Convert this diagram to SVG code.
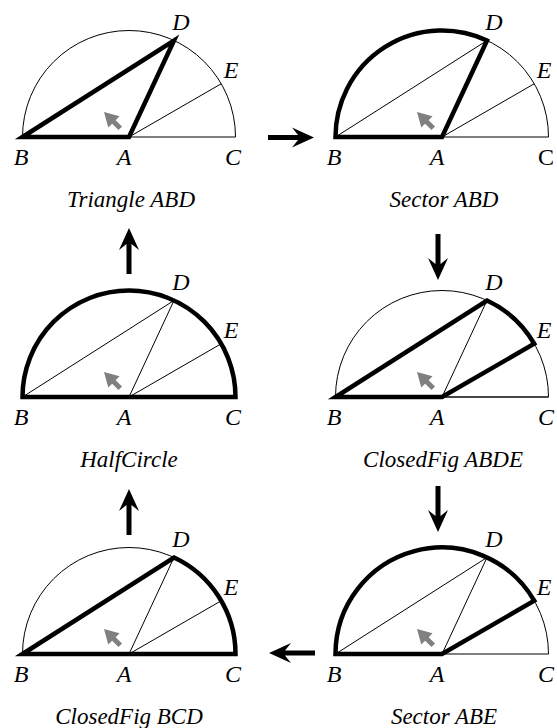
<svg xmlns="http://www.w3.org/2000/svg" xmlns:xlink="http://www.w3.org/1999/xlink" width="557" height="728" viewBox="0 0 557 728">
<style>
.thin{fill:none;stroke:#000;stroke-width:1}
.thick{fill:none;stroke:#000;stroke-width:4.5;stroke-linejoin:miter;stroke-miterlimit:10}
text{font-family:'Liberation Serif','Tinos','Times New Roman','DejaVu Serif',serif;font-style:italic;fill:#000;text-anchor:middle}
.lbl{font-size:24px}
.up{font-style:normal}
.ttl{font-size:23px}
.cur{fill:#808080}
.arr{fill:#000}
</style>
<defs>
<g id="base">
<path class="thin" d="M-106.5,0 A106.5,106.5 0 0 1 106.5,0 Z"/>
<path class="thin" d="M-106.5,0 L45.01,-96.52 L0,0 L92.23,-53.25"/>
<path class="cur" d="M0,0 L14,-8 L14,-2.5 L23,-2.5 L23,2.5 L14,2.5 L14,8 Z" transform="translate(-25,-25) rotate(45)"/>
</g>
<path id="bigArrow" d="M0,0 L-22,-10 L-16,-2.5 L-46,-2.5 L-46,2.5 L-16,2.5 L-22,10 Z"/>
</defs>

<g id="triangle-abd" transform="translate(129,137)">
<use xlink:href="#base"/>
<path class="thick" d="M-106.5,0 L45.01,-96.52 L0,0 Z"/>
<text class="lbl" x="-108" y="28" font-family="Liberation Serif, serif">B</text>
<text class="lbl" x="-5" y="28">A</text>
<text class="lbl" x="104" y="28">C</text>
<text class="lbl" x="52" y="-107">D</text>
<text class="lbl" x="102" y="-59">E</text>
<text class="ttl" x="2" y="70">Triangle ABD</text>
</g>

<g id="sector-abd" transform="translate(442,137)">
<use xlink:href="#base"/>
<path class="thick" d="M0,0 L-106.5,0 A106.5,106.5 0 0 1 45.01,-96.52 Z"/>
<text class="lbl" x="-108" y="28">B</text>
<text class="lbl" x="-5" y="28">A</text>
<text class="lbl up" x="104" y="28">C</text>
<text class="lbl" x="52" y="-107">D</text>
<text class="lbl" x="102" y="-59">E</text>
<text class="ttl" x="2" y="70">Sector ABD</text>
</g>

<g id="halfcircle" transform="translate(129,397)">
<use xlink:href="#base"/>
<path class="thick" d="M-106.5,0 A106.5,106.5 0 0 1 106.5,0 Z"/>
<text class="lbl" x="-108" y="28">B</text>
<text class="lbl" x="-5" y="28">A</text>
<text class="lbl" x="104" y="28">C</text>
<text class="lbl" x="52" y="-107">D</text>
<text class="lbl" x="102" y="-59">E</text>
<text class="ttl" x="0" y="70">HalfCircle</text>
</g>

<g id="closedfig-abde" transform="translate(442,397)">
<use xlink:href="#base"/>
<path d="M0,0 L106.5,0" fill="none" stroke="#333" stroke-width="1.5"/>
<path class="thick" d="M0,0 L-106.5,0 L45.01,-96.52 A106.5,106.5 0 0 1 92.23,-53.25 Z"/>
<text class="lbl" x="-108" y="28">B</text>
<text class="lbl" x="-5" y="28">A</text>
<text class="lbl" x="104" y="28">C</text>
<text class="lbl" x="52" y="-107">D</text>
<text class="lbl" x="102" y="-59">E</text>
<text class="ttl" x="1" y="70">ClosedFig ABDE</text>
</g>

<g id="closedfig-bcd" transform="translate(129,654)">
<use xlink:href="#base"/>
<path class="thick" d="M-106.5,0 L45.01,-96.52 A106.5,106.5 0 0 1 106.5,0 Z"/>
<text class="lbl" x="-108" y="28">B</text>
<text class="lbl" x="-5" y="28">A</text>
<text class="lbl" x="104" y="28">C</text>
<text class="lbl" x="52" y="-107">D</text>
<text class="lbl" x="102" y="-59">E</text>
<text class="ttl" x="0" y="70">ClosedFig BCD</text>
</g>

<g id="sector-abe" transform="translate(442,654)">
<use xlink:href="#base"/>
<path class="thick" d="M0,0 L-106.5,0 A106.5,106.5 0 0 1 92.23,-53.25 Z"/>
<text class="lbl" x="-108" y="28">B</text>
<text class="lbl" x="-5" y="28">A</text>
<text class="lbl" x="104" y="28">C</text>
<text class="lbl" x="52" y="-107">D</text>
<text class="lbl" x="102" y="-59">E</text>
<text class="ttl" x="2" y="70">Sector ABE</text>
</g>

<g id="connectors" class="arr">
<use xlink:href="#bigArrow" transform="translate(314,137.5)"/>
<use xlink:href="#bigArrow" transform="translate(438,280) rotate(90)"/>
<use xlink:href="#bigArrow" transform="translate(438,532) rotate(90)"/>
<use xlink:href="#bigArrow" transform="translate(269,653) rotate(180)"/>
<use xlink:href="#bigArrow" transform="translate(129,489) rotate(-90)"/>
<use xlink:href="#bigArrow" transform="translate(129,228) rotate(-90)"/>
</g>
</svg>
